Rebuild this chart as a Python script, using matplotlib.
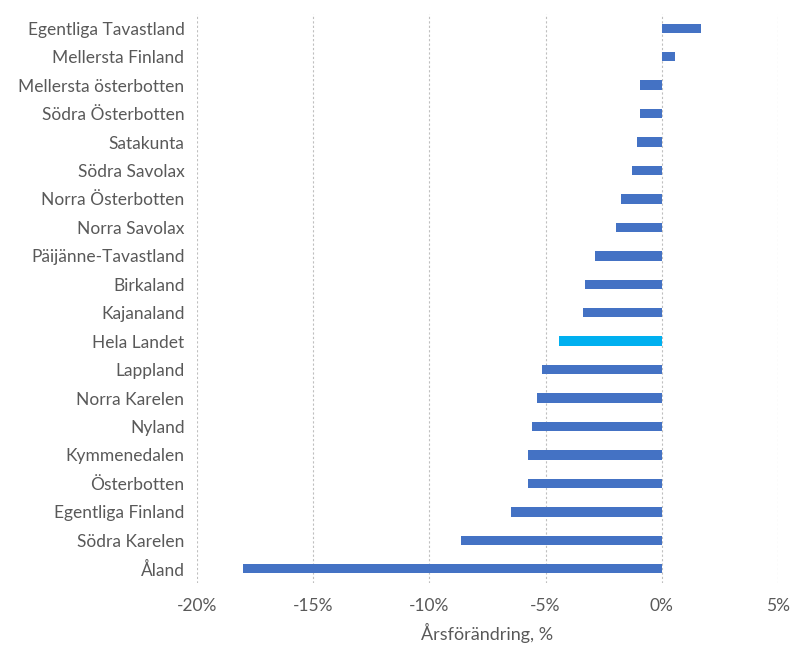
import matplotlib
matplotlib.use("Agg")
import matplotlib.pyplot as plt
from matplotlib.ticker import FuncFormatter

regions = ["Egentliga Tavastland", "Mellersta Finland", "Mellersta österbotten",
           "Södra Österbotten", "Satakunta", "Södra Savolax", "Norra Österbotten",
           "Norra Savolax", "Päijänne-Tavastland", "Birkaland", "Kajanaland",
           "Hela Landet", "Lappland", "Norra Karelen", "Nyland", "Kymmenedalen",
           "Österbotten", "Egentliga Finland", "Södra Karelen", "Åland"]
change_pct = [1.70, 0.57, -0.92, -0.92, -1.07, -1.27, -1.76, -1.96, -2.86, -3.30,
              -3.37, -4.42, -5.16, -5.37, -5.57, -5.74, -5.74, -6.49, -8.62, -18.0]
highlight = "Hela Landet"
xticks = [-20, -15, -10, -5, 0, 5]

plt.rcParams['font.family'] = ['Lato', 'DejaVu Sans']

fig = plt.figure(figsize=(7.92, 6.48), dpi=100)
ax = fig.add_axes([197/792, 1 - 583/648, (778-197)/792, (583-14)/648])

ypos = list(range(len(regions)))[::-1]
colors = ["#00B0F0" if r == highlight else "#4472C4" for r in regions]
ax.barh(ypos, change_pct, height=0.33, color=colors, zorder=3)

ax.set_xlim(-20, 5)
ax.set_ylim(-0.5, len(regions) - 0.5)
ax.set_xticks(xticks)
ax.xaxis.set_major_formatter(FuncFormatter(lambda v, p: f"{int(v)}%"))
ax.set_yticks(ypos)
ax.set_yticklabels(regions)
ax.grid(axis='x', color='#BFBFBF', linestyle=(0, (2, 2)), linewidth=0.8, zorder=0)
for s in ax.spines.values():
    s.set_visible(False)
ax.tick_params(axis='both', length=0, labelsize=12.5, labelcolor='#595959')
ax.tick_params(axis='x', pad=11)
ax.tick_params(axis='y', pad=9)
ax.set_xlabel("Årsförändring, %", fontsize=13, color='#595959', labelpad=6)

fig.savefig("out.png", dpi=100, facecolor='white')
